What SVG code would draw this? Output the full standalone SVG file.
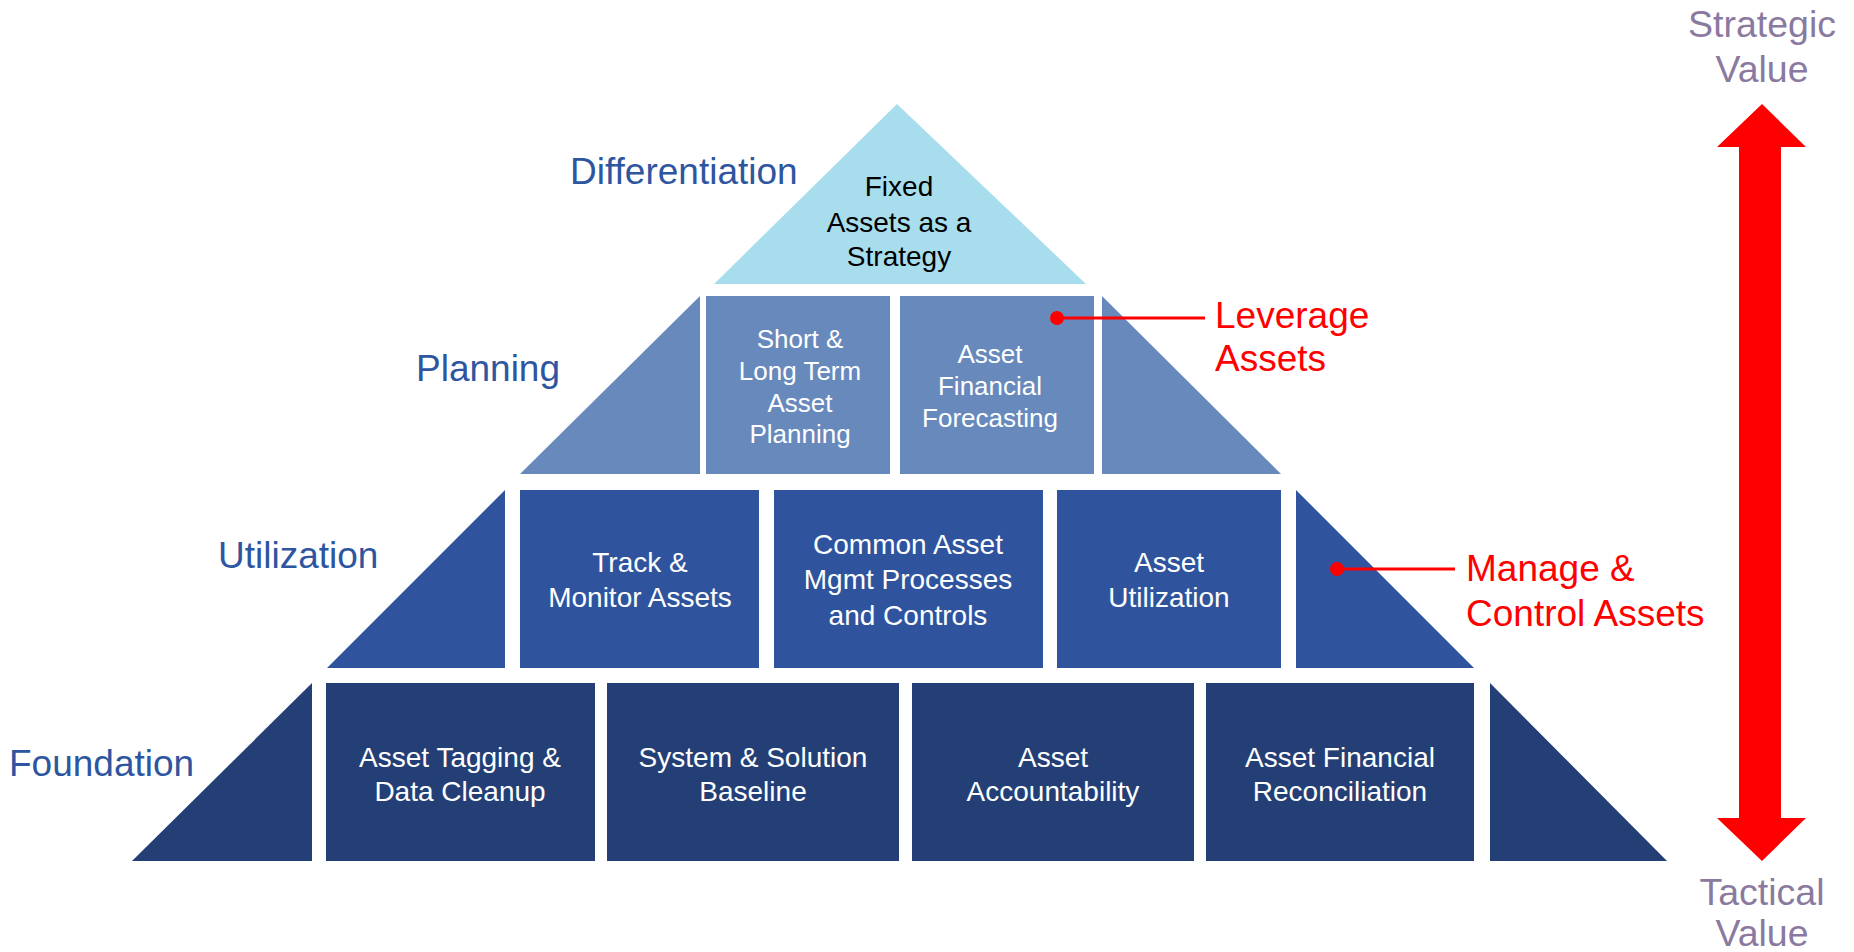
<svg xmlns="http://www.w3.org/2000/svg" width="1854" height="952" viewBox="0 0 1854 952">
<style>
text{font-family:"Liberation Sans",Arial,sans-serif}
.lvl{font-size:37px;fill:#2E56A0}
.wt{font-size:28px;fill:#FFFFFF;text-anchor:middle}
.wp{font-size:26px;fill:#FFFFFF;text-anchor:middle}
.bk{font-size:28px;fill:#000000;text-anchor:middle}
.rd{font-size:37px;fill:#FF0000}
.gr{font-size:37.5px;fill:#8A7AA0;text-anchor:middle}
.t0{fill:#A8DDED}
.t1{fill:#6789BC}
.t2{fill:#2F549D}
.t3{fill:#243F75}
</style>
<g id="labels">
<text class="lvl" x="570" y="184">Differentiation</text>
<text class="lvl" x="416" y="381">Planning</text>
<text class="lvl" x="218" y="568">Utilization</text>
<text class="lvl" x="9" y="776">Foundation</text>
</g>
<g id="tier-differentiation">
<polygon class="t0" points="897,104 714,284 1086,284"/>
<text class="bk" x="899" y="196">Fixed</text>
<text class="bk" x="899" y="232">Assets as a</text>
<text class="bk" x="899" y="266">Strategy</text>
</g>
<g id="tier-planning">
<polygon class="t1" points="520,474 700,296 700,474"/>
<rect class="t1" x="706" y="296" width="184" height="178"/>
<rect class="t1" x="900" y="296" width="194" height="178"/>
<polygon class="t1" points="1102,296 1102,474 1281,474"/>
<text class="wp" x="800" y="348">Short &amp;</text>
<text class="wp" x="800" y="380">Long Term</text>
<text class="wp" x="800" y="412">Asset</text>
<text class="wp" x="800" y="443">Planning</text>
<text class="wp" x="990" y="363">Asset</text>
<text class="wp" x="990" y="395">Financial</text>
<text class="wp" x="990" y="427">Forecasting</text>
</g>
<g id="tier-utilization">
<polygon class="t2" points="327,668 505,490 505,668"/>
<rect class="t2" x="520" y="490" width="239" height="178"/>
<rect class="t2" x="774" y="490" width="269" height="178"/>
<rect class="t2" x="1057" y="490" width="224" height="178"/>
<polygon class="t2" points="1296,490 1296,668 1474,668"/>
<text class="wt" x="640" y="572">Track &amp;</text>
<text class="wt" x="640" y="607">Monitor Assets</text>
<text class="wt" x="908" y="554">Common Asset</text>
<text class="wt" x="908" y="589">Mgmt Processes</text>
<text class="wt" x="908" y="625">and Controls</text>
<text class="wt" x="1169" y="572">Asset</text>
<text class="wt" x="1169" y="607">Utilization</text>
</g>
<g id="tier-foundation">
<polygon class="t3" points="132,861 312,683 312,861"/>
<rect class="t3" x="326" y="683" width="269" height="178"/>
<rect class="t3" x="607" y="683" width="292" height="178"/>
<rect class="t3" x="912" y="683" width="282" height="178"/>
<rect class="t3" x="1206" y="683" width="268" height="178"/>
<polygon class="t3" points="1490,683 1490,861 1667,861"/>
<text class="wt" x="460" y="767">Asset Tagging &amp;</text>
<text class="wt" x="460" y="801">Data Cleanup</text>
<text class="wt" x="753" y="767">System &amp; Solution</text>
<text class="wt" x="753" y="801">Baseline</text>
<text class="wt" x="1053" y="767">Asset</text>
<text class="wt" x="1053" y="801">Accountability</text>
<text class="wt" x="1340" y="767">Asset Financial</text>
<text class="wt" x="1340" y="801">Reconciliation</text>
</g>
<g id="connectors" stroke="#FF0000" stroke-width="3" fill="#FF0000">
<line x1="1057" y1="318" x2="1205" y2="318"/>
<circle cx="1057" cy="318" r="7" stroke="none"/>
<line x1="1337" y1="569" x2="1455" y2="569"/>
<circle cx="1337" cy="569" r="7" stroke="none"/>
</g>
<g id="callout-leverage">
<text class="rd" x="1215" y="328">Leverage</text>
<text class="rd" x="1215" y="371">Assets</text>
</g>
<g id="callout-manage">
<text class="rd" x="1466" y="581">Manage &amp;</text>
<text class="rd" x="1466" y="626">Control Assets</text>
</g>
<g id="value-axis">
<text class="gr" x="1762" y="37">Strategic</text>
<text class="gr" x="1762" y="82">Value</text>
<polygon fill="#FF0000" points="1762,104 1806,147 1781,147 1781,818 1806,818 1762,861 1717,818 1739,818 1739,147 1717,147"/>
<text class="gr" x="1762" y="905">Tactical</text>
<text class="gr" x="1762" y="946">Value</text>
</g>
</svg>
